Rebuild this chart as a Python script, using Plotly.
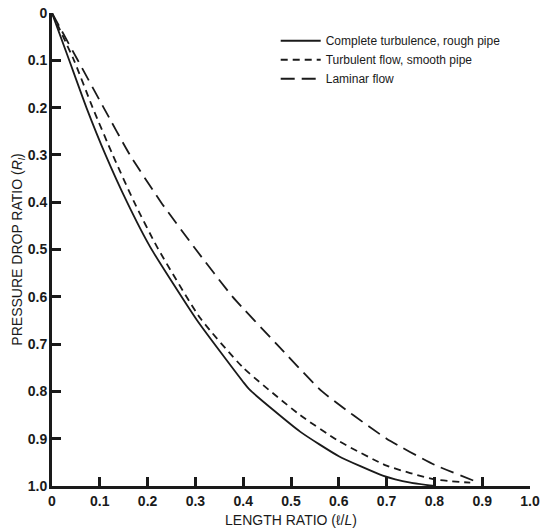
import plotly.graph_objects as go

# Data
rough_x = [0, 0.036, 0.072, 0.112, 0.157, 0.205, 0.303, 0.40, 0.414, 0.519, 0.60, 0.692, 0.75, 0.80]
rough_y = [0, 0.10, 0.20, 0.30, 0.40, 0.494, 0.649, 0.78, 0.797, 0.885, 0.937, 0.978, 0.993, 1.0]

smooth_x = [0, 0.046, 0.085, 0.127, 0.172, 0.22, 0.31, 0.40, 0.519, 0.60, 0.70, 0.80, 0.875]
smooth_y = [0, 0.10, 0.20, 0.30, 0.40, 0.495, 0.645, 0.75, 0.85, 0.905, 0.957, 0.986, 0.993]

laminar_x = [0, 0.054, 0.108, 0.163, 0.228, 0.301, 0.378, 0.47, 0.565, 0.70, 0.80, 0.888]
laminar_y = [0, 0.10, 0.20, 0.30, 0.40, 0.50, 0.60, 0.70, 0.80, 0.90, 0.955, 0.991]

tick_vals = [0, 0.1, 0.2, 0.3, 0.4, 0.5, 0.6, 0.7, 0.8, 0.9, 1.0]
tick_text = ["0", "0.1", "0.2", "0.3", "0.4", "0.5", "0.6", "0.7", "0.8", "0.9", "1.0"]

names = ["Complete turbulence, rough pipe", "Turbulent flow, smooth pipe", "Laminar flow"]

ink = "#1a1a1a"
fig = go.Figure()
fig.add_trace(go.Scatter(x=rough_x, y=rough_y, mode="lines", name=names[0],
                         line=dict(color=ink, width=1.8, shape="spline", smoothing=0.5)))
fig.add_trace(go.Scatter(x=smooth_x, y=smooth_y, mode="lines", name=names[1],
                         line=dict(color=ink, width=1.8, dash="7px,5px", shape="spline", smoothing=0.5)))
fig.add_trace(go.Scatter(x=laminar_x, y=laminar_y, mode="lines", name=names[2],
                         line=dict(color=ink, width=1.8, dash="14px,7px", shape="spline", smoothing=0.5)))

font_family = "Liberation Sans, Arial, sans-serif"
fig.update_layout(
    width=543, height=528,
    margin=dict(l=52, r=13, t=13, b=42),
    paper_bgcolor="white", plot_bgcolor="white",
    font=dict(family=font_family, color=ink),
    legend=dict(x=0.468, y=0.972, xanchor="left", yanchor="top",
                bgcolor="rgba(0,0,0,0)", font=dict(size=12, family=font_family, color=ink),
                tracegroupgap=0, itemwidth=40),
    showlegend=True,
)
fig.update_xaxes(
    range=[0, 1.0], tickvals=tick_vals, ticktext=tick_text, automargin=False,
    showgrid=False, zeroline=False, showline=True, linecolor=ink, linewidth=3,
    ticks="inside", ticklen=9, tickwidth=3, tickcolor=ink,
    tickfont=dict(size=14, weight="bold", family=font_family, color=ink),
    title=dict(text="LENGTH RATIO (ℓ/<i>L</i>)", font=dict(size=14, family=font_family, color=ink), standoff=12),
)
fig.update_yaxes(
    range=[1.0, 0], tickvals=tick_vals, ticktext=tick_text, automargin=False,
    showgrid=False, zeroline=False, showline=True, linecolor=ink, linewidth=3,
    ticks="inside", ticklen=9, tickwidth=3, tickcolor=ink,
    tickfont=dict(size=14, weight="bold", family=font_family, color=ink),
    ticklabelstandoff=-1,
    title=dict(text="PRESSURE DROP RATIO (<i>R</i><sub><i>l</i></sub>)", font=dict(size=14, family=font_family, color=ink), standoff=2),
)

fig.write_html("out.html")
